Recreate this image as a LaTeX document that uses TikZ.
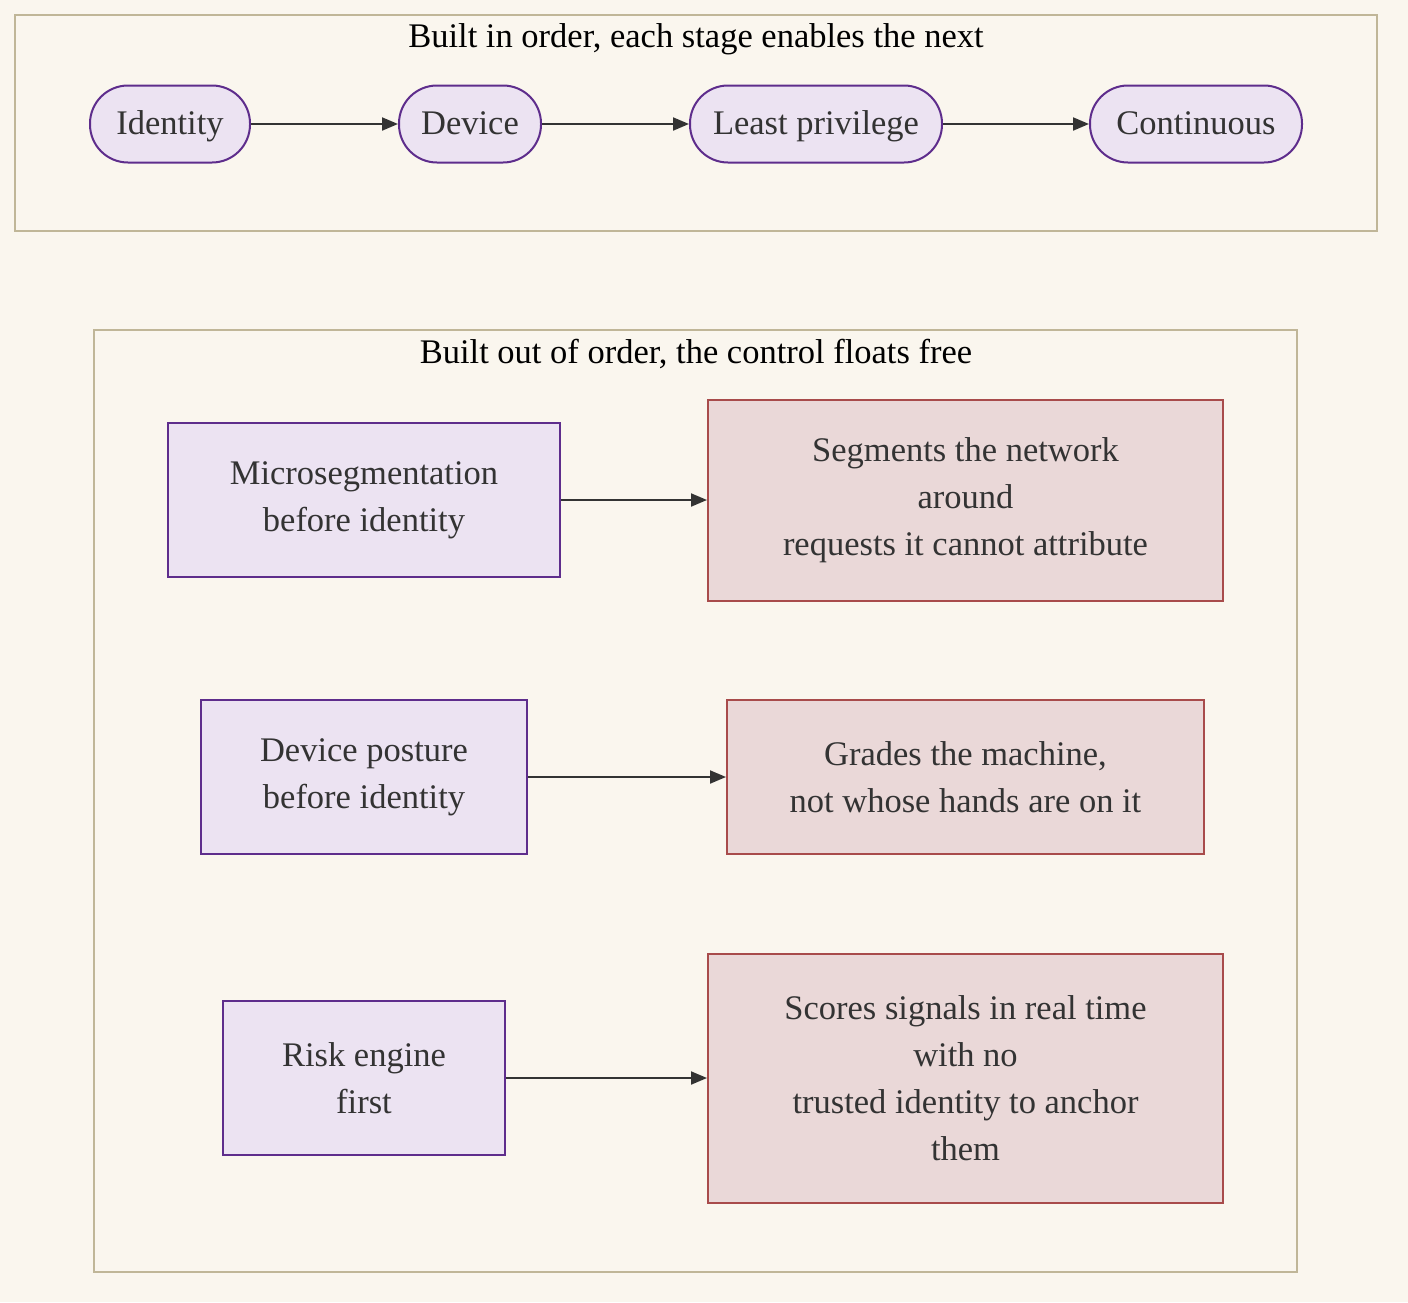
\documentclass[tikz,border=0pt]{standalone}
\usepackage{fontspec}
\setmainfont{Liberation Serif}
\usepackage{xcolor}
\usetikzlibrary{arrows.meta}

\definecolor{paper}{RGB}{250,246,238}
\definecolor{clusterline}{RGB}{192,182,152}
\definecolor{stagefill}{RGB}{236,227,242}
\definecolor{stageline}{RGB}{94,45,140}
\definecolor{riskfill}{RGB}{234,216,216}
\definecolor{riskline}{RGB}{168,75,75}
\definecolor{ink}{RGB}{51,51,51}

\begin{document}
\begin{tikzpicture}[
  x=1pt, y=-1pt,
  cluster/.style={draw=clusterline, line width=2pt},
  ctitle/.style={font=\fontsize{34.5}{40}\selectfont, text=black},
  stage/.style={draw=stageline, fill=stagefill, line width=2pt,
                rounded corners=38pt, minimum height=77pt, inner sep=0pt,
                text height=26pt, text depth=5pt,
                font=\fontsize{34.5}{47}\selectfont, text=ink},
  cause/.style={draw=stageline, fill=stagefill, line width=2pt,
                minimum height=154pt, inner sep=0pt, align=center,
                font=\fontsize{34.5}{47}\selectfont, text=ink},
  effect/.style={draw=riskline, fill=riskfill, line width=2pt,
                 inner sep=0pt, align=center,
                 font=\fontsize{34.5}{47}\selectfont, text=ink},
  arrow/.style={-{Triangle[length=16pt, width=13pt]}, line width=2pt, color=ink},
]
  \fill[paper] (0,0) rectangle (1408,1302);
  \useasboundingbox (0,0) rectangle (1408,1302);

  % in order
  \draw[cluster] (15,15) rectangle (1377,231);
  \node[ctitle] (ordtitle) at (696,39) {Built in order, each stage enables the next};

  \node[stage, minimum width=160pt] (identity) at (170,124) {Identity};
  \node[stage, minimum width=142pt] (device) at (470,124) {Device};
  \node[stage, minimum width=252pt] (leastpriv) at (816,124) {Least privilege};
  \node[stage, minimum width=212pt] (continuous) at (1196,124) {Continuous};

  \draw[arrow] (identity.east) -- (device.west);
  \draw[arrow] (device.east) -- (leastpriv.west);
  \draw[arrow] (leastpriv.east) -- (continuous.west);

  % out of order
  \draw[cluster] (94,330) rectangle (1297,1272);
  \node[ctitle] (oootitle) at (696,354) {Built out of order, the control floats free};

  \node[cause, minimum width=392pt] (microseg) at (364,500)
    {Microsegmentation\\before identity};
  \node[effect, minimum width=515pt, minimum height=201pt] (segments) at (965.5,500)
    {Segments the network\\around\\requests it cannot attribute};

  \node[cause, minimum width=326pt] (posture) at (364,777)
    {Device posture\\before identity};
  \node[effect, minimum width=477pt, minimum height=154pt] (grades) at (965.5,777)
    {Grades the machine,\\not whose hands are on it};

  \node[cause, minimum width=282pt] (riskengine) at (364,1078)
    {Risk engine\\first};
  \node[effect, minimum width=515pt, minimum height=249pt] (scores) at (965.5,1078)
    {Scores signals in real time\\with no\\trusted identity to anchor\\them};

  \draw[arrow] (microseg.east) -- (segments.west);
  \draw[arrow] (posture.east) -- (grades.west);
  \draw[arrow] (riskengine.east) -- (scores.west);

\end{tikzpicture}
\end{document}
